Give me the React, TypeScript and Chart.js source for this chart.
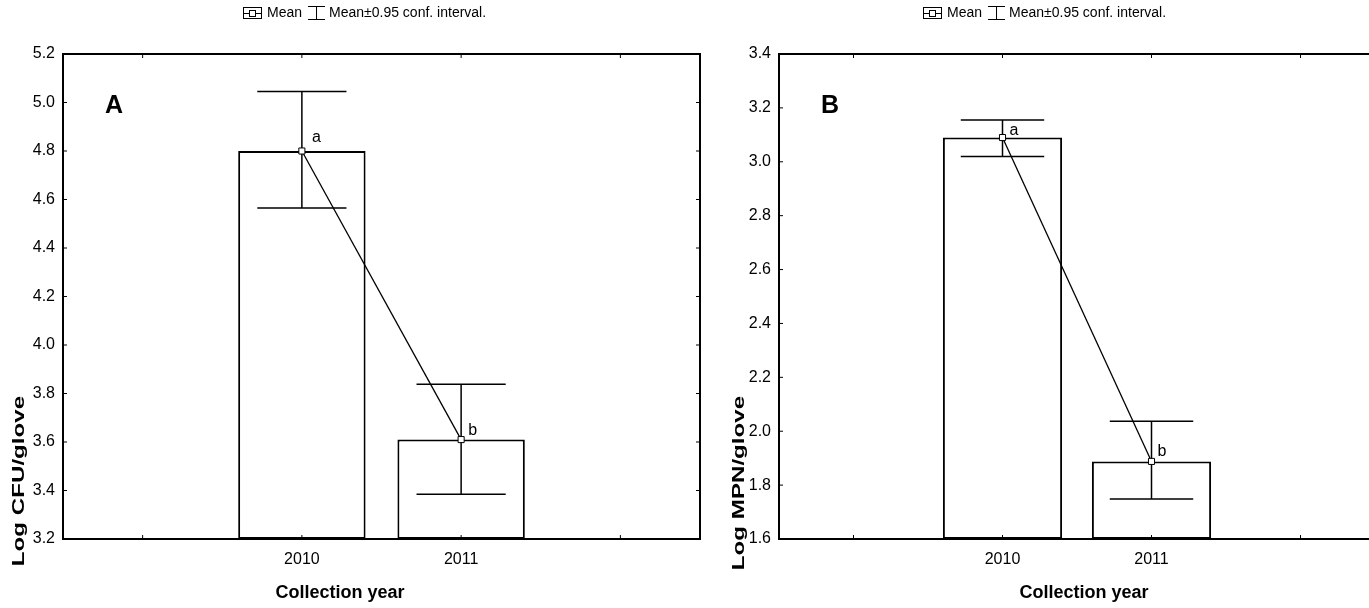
import React, { useEffect, useRef } from "react";
import { Chart, registerables } from "chart.js";

Chart.register(...registerables);

// ---------- data ----------
const categories = ["", "2010", "2011", ""];

const meansA = [null, 4.8, 3.61, null];
const lowerA = [null, 4.565, 3.385, null];
const upperA = [null, 5.045, 3.838, null];
const lettersA = ["", "a", "b", ""];

const meansB = [null, 3.09, 1.888, null];
const lowerB = [null, 3.02, 1.748, null];
const upperB = [null, 3.155, 2.037, null];
const lettersB = ["", "a", "b", ""];

const yRangeA = [3.2, 5.2];
const yRangeB = [1.6, 3.4];
const yStep = 0.2;

const legendMean = "Mean";
const legendCI = "Mean\u00B10.95 conf. interval.";
const xTitle = "Collection year";
const yTitleA = "Log CFU/glove";
const yTitleB = "Log MPN/glove";
const panelLabelA = "A";
const panelLabelB = "B";

// ---------- styles / layout ----------
const FONT = '"Liberation Sans", Arial, Helvetica, sans-serif';

type Panel = {
  means: (number | null)[];
  lower: (number | null)[];
  upper: (number | null)[];
  letters: string[];
  letterOffsets: number[][];
  yRange: number[];
  yTitle: string;
  label: string;
  yAxisWidth: number;
  padRight: number;
  xTitleCenter: number;
  yTitleX: number;
  yTitleCY: number;
};

const panelA: Panel = {
  means: meansA,
  lower: lowerA,
  upper: upperA,
  letters: lettersA,
  letterOffsets: [[0, 0], [10, -9], [7, -5], [0, 0]],
  yRange: yRangeA,
  yTitle: yTitleA,
  label: panelLabelA,
  yAxisWidth: 63,
  padRight: 20,
  xTitleCenter: 340,
  yTitleX: 19,
  yTitleCY: 481,
};

const panelB: Panel = {
  means: meansB,
  lower: lowerB,
  upper: upperB,
  letters: lettersB,
  letterOffsets: [[0, 0], [7, -3], [6, -5], [0, 0]],
  yRange: yRangeB,
  yTitle: yTitleB,
  label: panelLabelB,
  yAxisWidth: 99,
  padRight: 25,
  xTitleCenter: 404,
  yTitleX: 59,
  yTitleCY: 483,
};

function makePlugin(p: Panel) {
  return {
    id: "statPanel",
    afterDatasetDraw(chart: any, args: any) {
      if (args.index !== 0) return;
      const ctx = chart.ctx;
      const xs = chart.scales.x;
      const ys = chart.scales.y;
      const catW = xs.getPixelForValue(1) - xs.getPixelForValue(0);
      const half = catW * 0.28;
      ctx.save();
      ctx.strokeStyle = "#000";
      ctx.lineWidth = 1.5;
      p.means.forEach((m, i) => {
        if (m == null) return;
        const x = xs.getPixelForValue(i);
        const yl = ys.getPixelForValue(p.lower[i]);
        const yu = ys.getPixelForValue(p.upper[i]);
        ctx.beginPath();
        ctx.moveTo(x, yu);
        ctx.lineTo(x, yl);
        ctx.moveTo(x - half, yu);
        ctx.lineTo(x + half, yu);
        ctx.moveTo(x - half, yl);
        ctx.lineTo(x + half, yl);
        ctx.stroke();
      });
      ctx.restore();
    },
    afterDraw(chart: any) {
      const ctx = chart.ctx;
      const a = chart.chartArea;
      const xs = chart.scales.x;
      const ys = chart.scales.y;
      ctx.save();
      // frame
      ctx.strokeStyle = "#000";
      ctx.lineWidth = 2;
      ctx.strokeRect(a.left, a.top, a.right - a.left, a.bottom - a.top);
      // tick marks
      ctx.lineWidth = 1;
      ctx.beginPath();
      ys.ticks.forEach((t: any) => {
        const y = ys.getPixelForValue(t.value);
        ctx.moveTo(a.left, y);
        ctx.lineTo(a.left + 4, y);
        ctx.moveTo(a.right, y);
        ctx.lineTo(a.right - 4, y);
      });
      categories.forEach((_c, i) => {
        const x = xs.getPixelForValue(i);
        ctx.moveTo(x, a.top);
        ctx.lineTo(x, a.top + 4);
        ctx.moveTo(x, a.bottom);
        ctx.lineTo(x, a.bottom - 4);
      });
      ctx.stroke();

      // significance letters
      ctx.fillStyle = "#000";
      ctx.font = `16px ${FONT}`;
      ctx.textAlign = "left";
      ctx.textBaseline = "alphabetic";
      p.letters.forEach((l, i) => {
        const m = p.means[i];
        if (!l || m == null) return;
        const x = xs.getPixelForValue(i);
        const y = ys.getPixelForValue(m);
        ctx.fillText(l, x + p.letterOffsets[i][0], y + p.letterOffsets[i][1]);
      });

      // panel label
      ctx.font = `bold 25px ${FONT}`;
      ctx.fillText(p.label, a.left + 42, a.top + 59);

      // legend
      const ly = 13;
      let lx = 243;
      ctx.lineWidth = 1;
      ctx.strokeRect(lx + 0.5, ly - 5.5, 18, 11);
      ctx.beginPath();
      ctx.moveTo(lx, ly + 0.5);
      ctx.lineTo(lx + 19, ly + 0.5);
      ctx.stroke();
      ctx.fillStyle = "#fff";
      ctx.fillRect(lx + 6.5, ly - 2.5, 6, 6);
      ctx.strokeRect(lx + 6.5, ly - 2.5, 6, 6);
      ctx.fillStyle = "#000";
      ctx.font = `14px ${FONT}`;
      ctx.textBaseline = "middle";
      lx += 24;
      ctx.fillText(legendMean, lx, ly);
      lx += ctx.measureText(legendMean).width + 6;
      ctx.beginPath();
      ctx.moveTo(lx, ly - 6.5);
      ctx.lineTo(lx + 17, ly - 6.5);
      ctx.moveTo(lx + 8.5, ly - 6.5);
      ctx.lineTo(lx + 8.5, ly + 6.5);
      ctx.moveTo(lx, ly + 6.5);
      ctx.lineTo(lx + 17, ly + 6.5);
      ctx.stroke();
      lx += 21;
      ctx.fillText(legendCI, lx, ly);

      // x title
      ctx.font = `bold 18px ${FONT}`;
      ctx.textAlign = "center";
      ctx.textBaseline = "middle";
      ctx.fillText(xTitle, p.xTitleCenter, 593);

      // y title (stretched along its length)
      ctx.save();
      ctx.translate(p.yTitleX, p.yTitleCY);
      ctx.rotate(-Math.PI / 2);
      ctx.scale(1.42, 1);
      ctx.font = `bold 17px ${FONT}`;
      ctx.fillText(p.yTitle, 0, 0);
      ctx.restore();

      ctx.restore();
    },
  };
}

function buildChart(canvas: HTMLCanvasElement, p: Panel) {
  return new Chart(canvas, {
    type: "bar",
    data: {
      labels: categories,
      datasets: [
        {
          type: "bar",
          data: p.means as any,
          base: p.yRange[0],
          backgroundColor: "#fff",
          borderColor: "#000",
          borderWidth: 2,
          borderSkipped: false,
          barPercentage: 1,
          categoryPercentage: 0.8,
          order: 2,
        } as any,
        {
          type: "line",
          data: p.means as any,
          borderColor: "#000",
          borderWidth: 1.3,
          pointStyle: "rect",
          pointRadius: 4.3,
          pointBackgroundColor: "#fff",
          pointBorderColor: "#000",
          pointBorderWidth: 1,
          fill: false,
          tension: 0,
          order: 1,
        } as any,
      ],
    },
    options: {
      animation: false,
      responsive: false,
      layout: { padding: { top: 54, right: p.padRight, left: 0, bottom: 0 } },
      plugins: { legend: { display: false }, tooltip: { enabled: false } },
      scales: {
        x: {
          type: "category",
          offset: true,
          grid: { display: false },
          border: { display: false },
          ticks: { color: "#000", font: { size: 16, family: FONT }, padding: 3, autoSkip: false, maxRotation: 0 },
          afterFit: (s: any) => {
            s.height = 69;
          },
        },
        y: {
          min: p.yRange[0],
          max: p.yRange[1],
          grid: { display: false },
          border: { display: false },
          ticks: {
            stepSize: yStep,
            color: "#000",
            font: { size: 16, family: FONT },
            padding: 0,
            callback: (v: any) => Number(v).toFixed(1),
          },
          afterFit: (s: any) => {
            s.width = p.yAxisWidth;
          },
        },
      },
    } as any,
    plugins: [makePlugin(p)],
  });
}

export default function App() {
  const refA = useRef<HTMLCanvasElement>(null);
  const refB = useRef<HTMLCanvasElement>(null);
  useEffect(() => {
    const cA = buildChart(refA.current!, panelA);
    const cB = buildChart(refB.current!, panelB);
    return () => {
      cA.destroy();
      cB.destroy();
    };
  }, []);
  return (
    <div
      style={{
        position: "absolute",
        left: 0,
        top: 0,
        width: 1369,
        height: 608,
        overflow: "hidden",
        background: "#fff",
      }}
    >
      <canvas ref={refA} width={720} height={608} style={{ position: "absolute", left: 0, top: 0 }} />
      <canvas ref={refB} width={720} height={608} style={{ position: "absolute", left: 680, top: 0 }} />
    </div>
  );
}
